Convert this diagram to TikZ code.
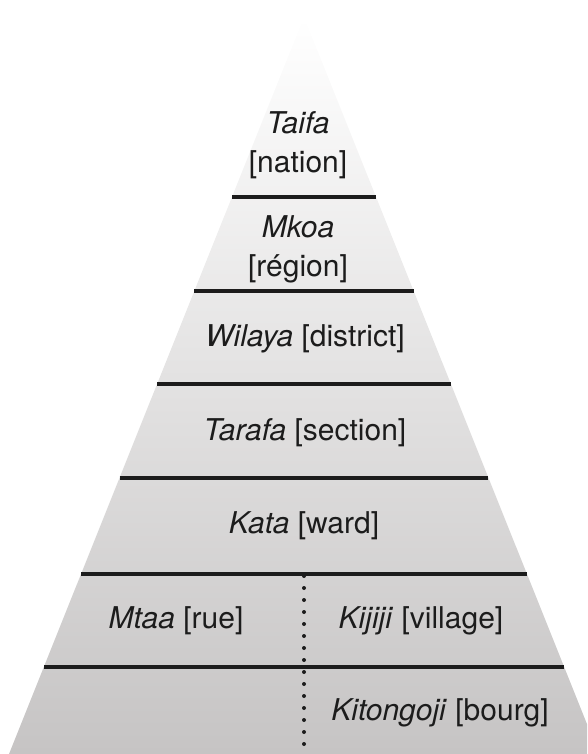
\documentclass[tikz,border=0pt]{standalone}
\usepackage{fontspec}
\setmainfont{TeX Gyre Heros}
\usetikzlibrary{calc}
\definecolor{pyrgray}{RGB}{198,196,196}
\definecolor{inkc}{RGB}{28,28,28}
\begin{document}
\begin{tikzpicture}[x=1pt,y=-1pt,
  lvl/.style={font=\fontsize{30}{39}\selectfont, text=inkc, align=center, inner sep=0pt},
  sep/.style={draw=inkc, line width=3.3pt},
  dotline/.style={draw=inkc, line width=4pt, dash pattern=on 0pt off 12pt, line cap=round}]
\useasboundingbox (0,0) rectangle (587,754);
\clip (0,0) rectangle (587,754);
\coordinate (A) at (304,17);
\coordinate (BL) at (9,754);
\coordinate (BR) at (599,754);
\shade[top color=white, bottom color=pyrgray] (A) -- (BL) -- (BR) -- cycle;
% separators
\foreach \yy/\nm in {197/s1,291/s2,384/s3,478/s4,574/s5,667/s6}{
  \coordinate (\nm l) at ({304-0.4*(\yy-17)},\yy);
  \coordinate (\nm r) at ({304+0.4*(\yy-17)},\yy);
}
\foreach \nm in {s1,s2,s3,s4,s5,s6}{
  \draw[sep] (\nm l) -- (\nm r);
}
\coordinate (dtop) at (304,576);
\coordinate (dbot) at (304,754);
\draw[dotline] (dtop) -- (dbot);
% labels
\node[lvl] (taifa) at (298,145) {\textit{Taifa}\\ {[nation]}};
\node[lvl] (mkoa) at (298,249) {\textit{Mkoa}\\ {[région]}};
\node[lvl] (wilaya) at (305,339) {\textit{Wilaya} [district]};
\node[lvl] (tarafa) at (305,433) {\textit{Tarafa} [section]};
\node[lvl] (kata) at (304,526) {\textit{Kata} [ward]};
\node[lvl] (mtaa) at (176,621) {\textit{Mtaa} [rue]};
\node[lvl] (kijiji) at (421,621) {\textit{Kijiji} [village]};
\node[lvl] (kitongoji) at (440,713) {\textit{Kitongoji} [bourg]};
\end{tikzpicture}
\end{document}
